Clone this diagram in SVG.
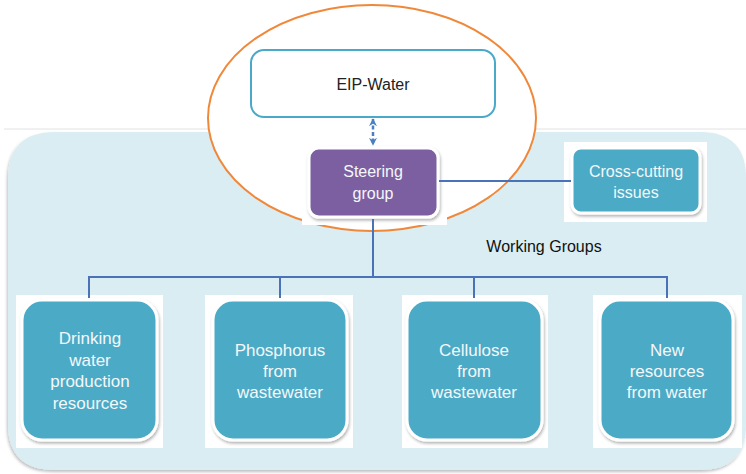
<svg xmlns="http://www.w3.org/2000/svg" width="746" height="474" viewBox="0 0 746 474">
<defs>
<filter id="sh" x="-10%" y="-10%" width="130%" height="130%">
<feDropShadow dx="1" dy="2" stdDeviation="1.5" flood-color="#000" flood-opacity="0.3"/>
</filter>
<filter id="psh" x="-5%" y="-5%" width="110%" height="110%">
<feDropShadow dx="-1" dy="2" stdDeviation="1.5" flood-color="#000" flood-opacity="0.25"/>
</filter>
<marker id="ah" viewBox="0 0 10 10" refX="9" refY="5" markerWidth="8" markerHeight="10" orient="auto-start-reverse" markerUnits="userSpaceOnUse">
<path d="M0,0 L10,5 L0,10 L3,5 Z" fill="#4A7FC4"/>
</marker>
<style>
.back{fill:#ffffff}
.teal{fill:#4BAAC6;stroke:#ffffff;stroke-width:3;filter:url(#sh)}
.lbl{font-family:"Liberation Sans",Arial,sans-serif;fill:#F4F8FA;text-anchor:middle}
.conn{stroke:#4A72B8;stroke-width:2;fill:none}
</style>
</defs>
<rect x="0" y="0" width="746" height="474" fill="#ffffff"/>
<line x1="4" y1="129" x2="746" y2="129" stroke="#e2e2e2" stroke-width="1"/>
<path d="M8,179 Q8,132 55,132 L700,132 Q746,132 746,178 L746,424 Q746,470 700,470 L55,470 Q8,470 8,424 Z" fill="#DAEDF3" filter="url(#psh)"/>
<ellipse cx="372" cy="118" rx="164" ry="113" fill="#ffffff" stroke="#F0883A" stroke-width="2"/>
<g id="eip">
<rect x="251" y="50" width="244" height="67" rx="13" fill="#ffffff" stroke="#4AA8C8" stroke-width="2"/>
<text x="373" y="90" font-family="'Liberation Sans',Arial,sans-serif" font-size="16" fill="#222" text-anchor="middle">EIP-Water</text>
</g>
<g id="steering">
<rect class="back" x="302" y="141" width="145" height="84"/>
<rect x="309" y="148" width="129" height="69" rx="10" fill="#7B5EA0" stroke="#ffffff" stroke-width="3" filter="url(#sh)"/>
<text class="lbl" font-size="16"><tspan x="373" y="177">Steering</tspan><tspan x="373" y="199">group</tspan></text>
</g>
<g id="crosscutting">
<rect class="back" x="564" y="142" width="143" height="80"/>
<rect class="teal" x="572" y="148" width="128" height="65" rx="9"/>
<text class="lbl" font-size="16"><tspan x="636" y="177">Cross-cutting</tspan><tspan x="636" y="198">issues</tspan></text>
</g>
<text x="544" y="252" font-family="'Liberation Sans',Arial,sans-serif" font-size="16" fill="#111" text-anchor="middle">Working Groups</text>
<g id="wg1">
<rect class="back" x="16" y="295" width="147" height="153"/>
<rect class="teal" x="22" y="300" width="135" height="140" rx="20"/>
<text class="lbl" font-size="17"><tspan x="90" y="344">Drinking</tspan><tspan x="90" y="366">water</tspan><tspan x="90" y="387">production</tspan><tspan x="90" y="409">resources</tspan></text>
</g>
<g id="wg2">
<rect class="back" x="205" y="295" width="148" height="153"/>
<rect class="teal" x="213" y="300" width="134" height="140" rx="20"/>
<text class="lbl" font-size="17"><tspan x="280" y="356">Phosphorus</tspan><tspan x="280" y="377">from</tspan><tspan x="280" y="398">wastewater</tspan></text>
</g>
<g id="wg3">
<rect class="back" x="402" y="295" width="146" height="153"/>
<rect class="teal" x="407" y="300" width="135" height="140" rx="20"/>
<text class="lbl" font-size="17"><tspan x="474" y="356">Cellulose</tspan><tspan x="474" y="377">from</tspan><tspan x="474" y="398">wastewater</tspan></text>
</g>
<g id="wg4">
<rect class="back" x="593" y="295" width="149" height="153"/>
<rect class="teal" x="600" y="300" width="133" height="140" rx="20"/>
<text class="lbl" font-size="17"><tspan x="667" y="356">New</tspan><tspan x="667" y="377">resources</tspan><tspan x="667" y="398">from water</tspan></text>
</g>
<g id="connectors">
<line class="conn" x1="439" y1="181" x2="571" y2="181"/>
<line class="conn" x1="373" y1="219" x2="373" y2="277"/>
<polyline class="conn" points="89,298 89,277 667,277 667,298"/>
<line class="conn" x1="280" y1="277" x2="280" y2="298"/>
<line class="conn" x1="474" y1="277" x2="474" y2="298"/>
<line x1="373" y1="119" x2="373" y2="145" stroke="#4A7FC4" stroke-width="2.5" stroke-dasharray="4,2.5" marker-start="url(#ah)" marker-end="url(#ah)"/>
</g>
</svg>
